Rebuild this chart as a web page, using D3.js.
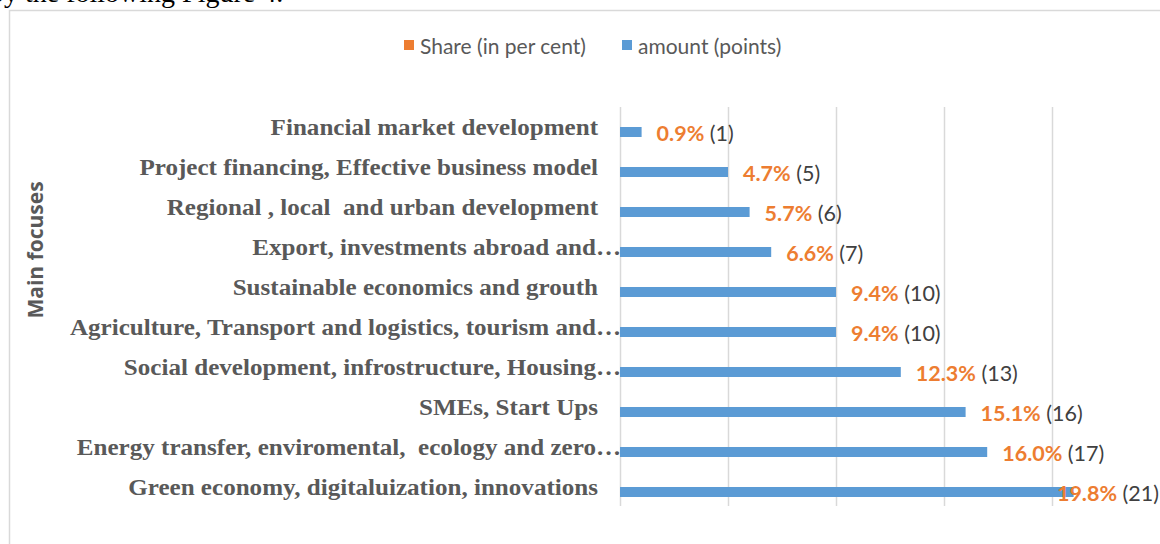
<!DOCTYPE html>
<html><head><meta charset="utf-8">
<script src="https://cdn.jsdelivr.net/npm/d3@7"></script>
<style>body{margin:0;background:#fff;overflow:hidden}</style>
</head><body>
<svg id="c" width="1160" height="544"></svg>
<script>
const categories = [
  "Financial market development",
  "Project financing, Effective business model",
  "Regional , local  and urban development",
  "Export, investments abroad and…",
  "Sustainable economics and grouth",
  "Agriculture, Transport and logistics, tourism and…",
  "Social development, infrostructure, Housing…",
  "SMEs, Start Ups",
  "Energy transfer, enviromental,  ecology and zero…",
  "Green economy, digitaluization, innovations"
];
const amount = [1, 5, 6, 7, 10, 10, 13, 16, 17, 21];
const shareLabels = ["0.9%", "4.7%", "5.7%", "6.6%", "9.4%", "9.4%", "12.3%", "15.1%", "16.0%", "19.8%"];
const xTicks = [0, 5, 10, 15, 20];
const seriesNames = ["Share (in per cent)", "amount (points)"];

const W = 1160, H = 544;
const blue = "#5B9BD5", orange = "#ED7D31", grid = "#d9d9d9", txt = "#595959";
const svg = d3.select("#c");

// top text (cut off document line)
svg.append("text").attr("x", -10).attr("y", 2)
  .attr("font-family", "Liberation Serif").attr("font-size", 28).attr("fill", "#000")
  .text("by the following Figure 4.");

// chart border
svg.append("rect").attr("x", 9.5).attr("y", 10.5).attr("width", 1300).attr("height", 700)
  .attr("fill", "#fff").attr("stroke", grid).attr("stroke-width", 1.5);

const x = d3.scaleLinear().domain([0, 25]).range([620, 1160]);
const y = d3.scaleBand().domain(categories).range([107, 507]).paddingInner(0.5).paddingOuter(0.25);
const ySub = d3.scaleBand().domain(["share", "amount"]).range([0, y.bandwidth()]);

// gridlines
const xAxis = d3.axisBottom(x).tickValues(xTicks).tickSize(-(y.range()[1] - y.range()[0] - 1)).tickFormat("");
const gx = svg.append("g").attr("transform", `translate(0,${y.range()[1]-1})`).call(xAxis);
gx.select(".domain").remove();
gx.selectAll(".tick line").attr("stroke", grid).attr("stroke-width", 1.5);

// bars (amount series; the share series is too small to show on this axis)
svg.append("g").selectAll("rect").data(categories).join("rect")
  .attr("x", x(0)).attr("y", (d) => y(d) + ySub("amount"))
  .attr("width", (d, i) => x(amount[i]) - x(0)).attr("height", ySub.bandwidth())
  .attr("fill", blue);

// category labels
const labG = svg.append("g");
const labs = labG.selectAll("text").data(categories).join("text")
  .attr("font-family", "Liberation Serif").attr("font-weight", "bold").attr("font-size", 23.5)
  .attr("fill", txt).attr("dominant-baseline", "central").attr("text-anchor", "end")
  .style("white-space", "pre")
  .text((d) => d);
const refW = labs.filter((d, i) => i === categories.length - 1).node().getComputedTextLength();
const sx = 470 / refW;
labs.attr("transform", (d) => {
  const xe = d.endsWith("…") ? x(0) + 1 : x(0) - 22;
  return `translate(${xe},${y(d) + y.bandwidth() / 2 - 0.5}) scale(${sx},1)`;
});

// data labels
const dl = svg.append("g").selectAll("text").data(categories).join("text")
  .attr("font-family", "Lato").attr("font-size", 21.5)
  .attr("dominant-baseline", "central");
dl.append("tspan").attr("font-weight", "bold").attr("fill", orange).text((d, i) => shareLabels[i]);
dl.append("tspan").attr("fill", "#404040").text((d, i) => " (" + amount[i] + ")");
dl.each(function (d, i) {
  const w = this.getComputedTextLength();
  const xs = Math.min(x(amount[i]) + 15, W - w - 1);
  d3.select(this).attr("x", xs).attr("y", y(d) + ySub("amount") + ySub.bandwidth() / 2 + 1);
});

// y-axis title
svg.append("text").attr("transform", "translate(35,250) rotate(-90)")
  .attr("text-anchor", "middle").attr("dominant-baseline", "central")
  .attr("font-family", "Open Sans").attr("font-weight", "bold").attr("font-size", 21).attr("fill", txt)
  .text("Main focuses");

// legend
const legX = [404, 622], legC = [orange, blue];
const lg = svg.append("g").selectAll("g").data(seriesNames).join("g")
  .attr("transform", (d, i) => `translate(${legX[i]},40)`);
lg.append("rect").attr("width", 10).attr("height", 10).attr("fill", (d, i) => legC[i]);
lg.append("text").attr("x", 16).attr("y", 5).attr("dominant-baseline", "central")
  .attr("font-family", "Lato").attr("font-size", 21).attr("fill", txt).text((d) => d);
</script>
</body></html>
